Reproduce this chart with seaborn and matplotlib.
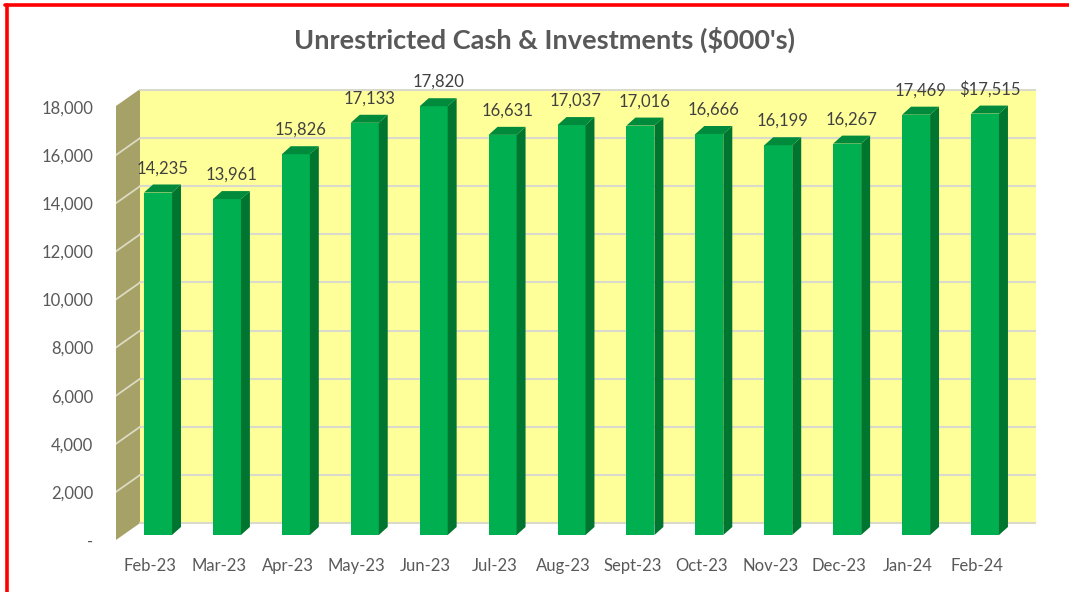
import matplotlib
matplotlib.use("Agg")
import matplotlib.pyplot as plt
import seaborn as sns
from matplotlib.patches import Polygon, Rectangle
from matplotlib.lines import Line2D
from matplotlib.transforms import ScaledTranslation

# Data
months = ['Feb-23', 'Mar-23', 'Apr-23', 'May-23', 'Jun-23', 'Jul-23', 'Aug-23',
          'Sept-23', 'Oct-23', 'Nov-23', 'Dec-23', 'Jan-24', 'Feb-24']
values = [14235, 13961, 15826, 17133, 17820, 16631, 17037,
          17016, 16666, 16199, 16267, 17469, 17515]
labels = ['14,235', '13,961', '15,826', '17,133', '17,820', '16,631', '17,037',
          '17,016', '16,666', '16,199', '16,267', '17,469', '$17,515']
yticks = [0, 2000, 4000, 6000, 8000, 10000, 12000, 14000, 16000, 18000]
ytick_labels = ['-', '2,000', '4,000', '6,000', '8,000', '10,000', '12,000',
                '14,000', '16,000', '18,000']

# colours
front = '#00B050'
side = '#00752F'
top = '#008A3C'
wall = '#FFFF99'
sidewall = '#A5A167'
grid = '#D9D9CC'
text_col = '#595959'

sns.set_style("white")
plt.rcParams['font.family'] = ['Lato', 'DejaVu Sans']

fig = plt.figure(figsize=(10.69, 5.92), dpi=100)
ax = fig.add_axes([116 / 1069, 52 / 592, 920 / 1069, 451 / 592])

# 3d-ish geometry (data units)
x_left, x_right = -0.61, 12.74
y_top = 18745
wall_dx, wall_dy = 0.35, 706      # back wall offset
bar_dy0 = 208                     # bars stand a bit behind the front edge
dx, dy = 0.13, 333                # bar depth

# side wall + back wall
ax.add_patch(Polygon([(x_left, 0), (x_left + wall_dx, wall_dy),
                      (x_left + wall_dx, y_top), (x_left, y_top - wall_dy)],
                     closed=True, facecolor=sidewall, edgecolor='none', zorder=0))
ax.add_patch(Rectangle((x_left + wall_dx, wall_dy), x_right - x_left - wall_dx,
                       y_top - wall_dy, facecolor=wall, edgecolor='none', zorder=0))
for v in yticks:
    ax.plot([x_left + wall_dx, x_right], [v + wall_dy, v + wall_dy],
            color=grid, lw=1.5, zorder=0.5)
    if 0 < v < 18000:
        ax.plot([x_left, x_left + wall_dx], [v, v + wall_dy],
                color='#DCDAC4', lw=1.3, zorder=0.5)

sns.barplot(x=months, y=values, color=front, saturation=1, width=0.406,
            bottom=bar_dy0, linewidth=0, edgecolor='none', ax=ax, zorder=2)

bars = [q for q in ax.patches if isinstance(q, Rectangle) and q.get_width() < 1]
for p, lab in zip(bars, labels):
    x0 = p.get_x()
    x1 = x0 + p.get_width()
    b = p.get_y()
    h = b + p.get_height()
    ax.add_patch(Polygon([(x1, b), (x1 + dx, b + dy), (x1 + dx, h + dy), (x1, h)],
                         closed=True, facecolor=side, edgecolor='none', zorder=2))
    ax.add_patch(Polygon([(x0, h), (x0 + dx, h + dy), (x1 + dx, h + dy), (x1, h)],
                         closed=True, facecolor=top, edgecolor='none', zorder=2))
    ax.annotate(lab, ((x0 + x1 + dx) / 2, h + dy), xytext=(0, 6),
                textcoords='offset points', ha='center', va='bottom',
                fontsize=12, color='#404040', zorder=3)

ax.set_xlim(x_left, x_right)
ax.set_ylim(0, y_top)
ax.set_yticks(yticks)
ax.set_yticklabels(ytick_labels)
ax.tick_params(axis='y', length=0, pad=16.5, labelsize=12, labelcolor=text_col)
ax.tick_params(axis='x', length=0, pad=13, labelsize=12, labelcolor=text_col)
shift = ScaledTranslation(-0.08, 0, fig.dpi_scale_trans)
for t in ax.get_xticklabels():
    t.set_transform(t.get_transform() + shift)
ax.set_xlabel('')
ax.set_ylabel('')
for s in ax.spines.values():
    s.set_visible(False)
ax.grid(False)

fig.text(545 / 1069, 1 - 40 / 592, "Unrestricted Cash & Investments ($000's)",
         ha='center', va='center', fontsize=19.5, fontweight='bold', color=text_col)

# red frame (left and top)
fig.add_artist(Line2D([6.5 / 1069, 6.5 / 1069], [0, 1 - 4.5 / 592], color='#FF0000',
                      lw=2.6, transform=fig.transFigure))
fig.add_artist(Line2D([5 / 1069, 1], [1 - 4.5 / 592, 1 - 4.5 / 592], color='#FF0000',
                      lw=2.6, transform=fig.transFigure))

fig.savefig('out.png', dpi=100)
